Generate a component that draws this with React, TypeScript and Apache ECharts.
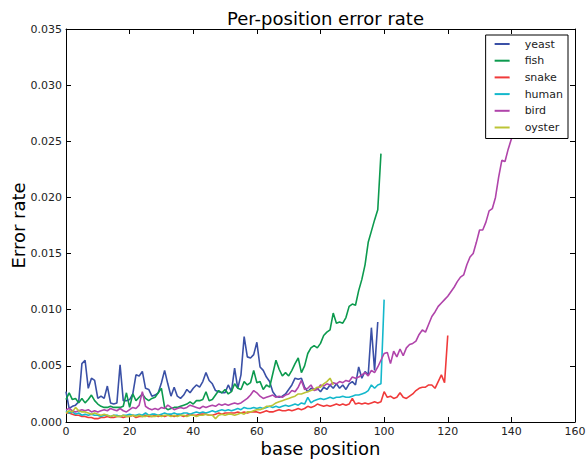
import React, { useEffect, useRef } from "react";
import * as echarts from "echarts";

const seriesNames = ["yeast", "fish", "snake", "human", "bird", "oyster"];
const seriesColors = ["#3a50a6", "#0c9a4e", "#f03a3a", "#14b8cc", "#b044aa", "#bcc436"];

const xTicks = [0, 20, 40, 60, 80, 100, 120, 140, 160];
const yTicks = [0, 0.005, 0.01, 0.015, 0.02, 0.025, 0.03, 0.035];

const yeast = [
  0.0027, 0.0012, 0.0014, 0.0015, 0.0018, 0.0052, 0.0055, 0.0030, 0.0039, 0.0037,
  0.0021, 0.0023, 0.0021, 0.0032, 0.0017, 0.0016, 0.0017, 0.0051, 0.0019, 0.0019,
  0.0020, 0.0025, 0.0042, 0.0041, 0.0045, 0.0030, 0.0029, 0.0023, 0.0024, 0.0026,
  0.0035, 0.0046, 0.0034, 0.0023, 0.0031, 0.0023, 0.0021, 0.0024, 0.0029, 0.0026,
  0.0030, 0.0033, 0.0031, 0.0036, 0.0044, 0.0037, 0.0034, 0.0028, 0.0027, 0.0026,
  0.0026, 0.0033, 0.0027, 0.0048, 0.0030, 0.0042, 0.0076, 0.0058, 0.0057, 0.0060,
  0.0071, 0.0049, 0.0046, 0.0040, 0.0036, 0.0027, 0.0023, 0.0022, 0.0023, 0.0025,
  0.0029, 0.0033, 0.0039, 0.0038, 0.0039, 0.0031, 0.0027, 0.0030, 0.0029, 0.0030,
  0.0027, 0.0031, 0.0029, 0.0033, 0.0030, 0.0034, 0.0030, 0.0033, 0.0029, 0.0034,
  0.0036, 0.0033, 0.0049, 0.0039, 0.0045, 0.0042, 0.0084, 0.0046, 0.0089,
];

const fish = [
  0.0020, 0.0026, 0.0020, 0.0021, 0.0017, 0.0021, 0.0017, 0.0020, 0.0024, 0.0019,
  0.0016, 0.0014, 0.0013, 0.0013, 0.0014, 0.0013, 0.0013, 0.0013, 0.0014, 0.0026,
  0.0013, 0.0025, 0.0019, 0.0022, 0.0025, 0.0021, 0.0019, 0.0021, 0.0022, 0.0026,
  0.0030, 0.0013, 0.0011, 0.0012, 0.0013, 0.0013, 0.0014, 0.0015, 0.0016, 0.0018,
  0.0016, 0.0019, 0.0019, 0.0020, 0.0027, 0.0019, 0.0020, 0.0024, 0.0028, 0.0026,
  0.0029, 0.0025, 0.0027, 0.0034, 0.0030, 0.0029, 0.0036, 0.0033, 0.0035, 0.0046,
  0.0035, 0.0036, 0.0029, 0.0033, 0.0031, 0.0043, 0.0055, 0.0047, 0.0041, 0.0044,
  0.0041, 0.0046, 0.0052, 0.0057, 0.0044, 0.0050, 0.0061, 0.0066, 0.0068, 0.0066,
  0.0070, 0.0077, 0.0080, 0.0082, 0.0097, 0.0088, 0.0089, 0.0088, 0.0093, 0.0103,
  0.0105, 0.0104, 0.0117, 0.0127, 0.0140, 0.0160, 0.0170, 0.0180, 0.0189, 0.0239,
];

const snake = [
  0.0008, 0.0008, 0.0007, 0.0006, 0.0006, 0.0005, 0.0005, 0.0004, 0.0004, 0.0003,
  0.0003, 0.0004, 0.0004, 0.0005, 0.0004, 0.0004, 0.0005, 0.0005, 0.0004, 0.0005,
  0.0005, 0.0006, 0.0004, 0.0005, 0.0005, 0.0006, 0.0005, 0.0005, 0.0006, 0.0005,
  0.0006, 0.0005, 0.0006, 0.0006, 0.0005, 0.0006, 0.0006, 0.0005, 0.0006, 0.0007,
  0.0006, 0.0006, 0.0007, 0.0007, 0.0007, 0.0006, 0.0006, 0.0007, 0.0008, 0.0007,
  0.0008, 0.0008, 0.0008, 0.0008, 0.0009, 0.0008, 0.0009, 0.0008, 0.0009, 0.0009,
  0.0009, 0.0008, 0.0009, 0.0010, 0.0009, 0.0009, 0.0010, 0.0011, 0.0010, 0.0010,
  0.0011, 0.0010, 0.0011, 0.0012, 0.0011, 0.0012, 0.0014, 0.0013, 0.0014, 0.0016,
  0.0015, 0.0014, 0.0015, 0.0014, 0.0015, 0.0016, 0.0015, 0.0016, 0.0015, 0.0016,
  0.0021, 0.0016, 0.0017, 0.0016, 0.0017, 0.0016, 0.0017, 0.0018, 0.0017, 0.0018,
  0.0027, 0.0022, 0.0023, 0.0021, 0.0022, 0.0026, 0.0022, 0.0021, 0.0023, 0.0025,
  0.0028, 0.0030, 0.0031, 0.0031, 0.0033, 0.0033, 0.0030, 0.0036, 0.0042, 0.0035,
  0.0077,
];

const human = [
  0.0010, 0.0008, 0.0009, 0.0007, 0.0008, 0.0006, 0.0007, 0.0006, 0.0007, 0.0006,
  0.0006, 0.0005, 0.0006, 0.0006, 0.0005, 0.0006, 0.0006, 0.0005, 0.0006, 0.0006,
  0.0007, 0.0006, 0.0006, 0.0007, 0.0006, 0.0008, 0.0006, 0.0007, 0.0007, 0.0006,
  0.0007, 0.0008, 0.0007, 0.0007, 0.0008, 0.0007, 0.0007, 0.0008, 0.0008, 0.0007,
  0.0008, 0.0009, 0.0008, 0.0009, 0.0008, 0.0009, 0.0010, 0.0009, 0.0010, 0.0011,
  0.0010, 0.0011, 0.0010, 0.0011, 0.0012, 0.0011, 0.0013, 0.0012, 0.0012, 0.0013,
  0.0012, 0.0013, 0.0012, 0.0013, 0.0014, 0.0013, 0.0014, 0.0013, 0.0014, 0.0015,
  0.0014, 0.0015, 0.0016, 0.0015, 0.0017, 0.0016, 0.0022, 0.0017, 0.0019, 0.0020,
  0.0021, 0.0020, 0.0021, 0.0022, 0.0021, 0.0022, 0.0022, 0.0023, 0.0022, 0.0022,
  0.0023, 0.0024, 0.0024, 0.0025, 0.0026, 0.0028, 0.0033, 0.0030, 0.0033, 0.0034,
  0.0109,
];

const bird = [
  0.0011, 0.0012, 0.0010, 0.0009, 0.0010, 0.0011, 0.0010, 0.0011, 0.0009, 0.0010,
  0.0009, 0.0010, 0.0011, 0.0010, 0.0012, 0.0011, 0.0010, 0.0012, 0.0010, 0.0009,
  0.0011, 0.0013, 0.0012, 0.0015, 0.0027, 0.0014, 0.0012, 0.0011, 0.0012, 0.0011,
  0.0013, 0.0012, 0.0015, 0.0013, 0.0011, 0.0012, 0.0013, 0.0012, 0.0013, 0.0015,
  0.0014, 0.0013, 0.0012, 0.0014, 0.0013, 0.0014, 0.0015, 0.0014, 0.0016, 0.0015,
  0.0016, 0.0015, 0.0016, 0.0017, 0.0016, 0.0017, 0.0019, 0.0021, 0.0024, 0.0028,
  0.0026, 0.0023, 0.0021, 0.0022, 0.0023, 0.0024, 0.0022, 0.0023, 0.0022, 0.0024,
  0.0025, 0.0028, 0.0027, 0.0031, 0.0037, 0.0029, 0.0030, 0.0033, 0.0028, 0.0029,
  0.0033, 0.0032, 0.0034, 0.0033, 0.0035, 0.0034, 0.0036, 0.0035, 0.0037, 0.0036,
  0.0040, 0.0039, 0.0040, 0.0042, 0.0044, 0.0041, 0.0046, 0.0044, 0.0049, 0.0055,
  0.0061, 0.0062, 0.0052, 0.0063, 0.0058, 0.0065, 0.0059, 0.0066, 0.0069, 0.0070,
  0.0072, 0.0078, 0.0082, 0.0080, 0.0087, 0.0094, 0.0098, 0.0103, 0.0106, 0.0109,
  0.0112, 0.0116, 0.0120, 0.0125, 0.0129, 0.0131, 0.0140, 0.0147, 0.0150, 0.0160,
  0.0171, 0.0171, 0.0178, 0.0188, 0.0190, 0.0200, 0.0218, 0.0233, 0.0232, 0.0243,
  0.0252, 0.0262, 0.0275, 0.0285, 0.0298, 0.0310,
];

const oyster = [
  0.0008, 0.0010, 0.0009, 0.0013, 0.0010, 0.0009, 0.0009, 0.0008, 0.0007, 0.0008,
  0.0007, 0.0006, 0.0007, 0.0006, 0.0005, 0.0006, 0.0005, 0.0005, 0.0006, 0.0005,
  0.0005, 0.0006, 0.0005, 0.0006, 0.0005, 0.0005, 0.0006, 0.0005, 0.0005, 0.0006,
  0.0005, 0.0006, 0.0006, 0.0005, 0.0006, 0.0005, 0.0006, 0.0006, 0.0005, 0.0006,
  0.0006, 0.0005, 0.0006, 0.0006, 0.0007, 0.0006, 0.0006, 0.0003, 0.0006, 0.0007,
  0.0006, 0.0007, 0.0007, 0.0006, 0.0007, 0.0008, 0.0007, 0.0009, 0.0009, 0.0010,
  0.0011, 0.0011, 0.0012, 0.0014, 0.0014, 0.0015, 0.0017, 0.0018, 0.0019, 0.0020,
  0.0021, 0.0022, 0.0023, 0.0025, 0.0025, 0.0026, 0.0027, 0.0028, 0.0029, 0.0031,
  0.0031, 0.0034, 0.0036, 0.0039, 0.0033,
];

const allSeries = [yeast, fish, snake, human, bird, oyster];

const FONT = "DejaVu Sans";

export default function App() {
  const ref = useRef<HTMLDivElement>(null);
  useEffect(() => {
    if (!ref.current) return;
    const chart = echarts.init(ref.current, null, { renderer: "svg" });
    const tickLabel = { fontFamily: FONT, fontSize: 11, color: "#222" };
    const xMin = xTicks[0];
    const xMax = xTicks[xTicks.length - 1];
    const xInt = xTicks[1] - xTicks[0];
    const yMin = yTicks[0];
    const yMax = yTicks[yTicks.length - 1];
    const yInt = yTicks[1] - yTicks[0];
    const frameLine = { show: true, onZero: false, lineStyle: { color: "#000", width: 1 } };
    const innerTick = { show: true, inside: true, length: 5, lineStyle: { color: "#000", width: 1 } };
    chart.setOption({
      animation: false,
      backgroundColor: "#fff",
      title: {
        text: "Per-position error rate",
        left: 320.5,
        textAlign: "center",
        top: 4,
        textStyle: { fontFamily: FONT, fontSize: 18, fontWeight: "normal", color: "#000" },
      },
      legend: {
        data: seriesNames,
        orient: "vertical",
        right: 18,
        top: 35,
        icon: "rect",
        itemWidth: 15,
        itemHeight: 2,
        itemGap: 2.7,
        padding: [2, 5, 4, 9],
        backgroundColor: "#fff",
        borderColor: "#000",
        borderWidth: 1,
        borderRadius: 0,
        z: 10,
        textStyle: { fontFamily: FONT, fontSize: 11, color: "#222", lineHeight: 14, padding: [0, 0, 0, 10] },
      },
      grid: { left: 66, right: 11, top: 29, bottom: 37, containLabel: false, outerBoundsMode: "none" },
      xAxis: [
        {
          type: "value",
          min: xMin,
          max: xMax,
          interval: xInt,
          position: "bottom",
          name: "base position",
          nameLocation: "middle",
          nameGap: 17,
          nameMoveOverlap: false,
          nameTextStyle: { fontFamily: FONT, fontSize: 18, lineHeight: 18, color: "#000" },
          axisLine: frameLine,
          axisTick: innerTick,
          axisLabel: { ...tickLabel, margin: 4 },
          splitLine: { show: false },
        },
        {
          type: "value",
          min: xMin,
          max: xMax,
          interval: xInt,
          position: "top",
          axisLine: frameLine,
          axisTick: innerTick,
          axisLabel: { show: false },
          splitLine: { show: false },
        },
      ],
      yAxis: [
        {
          type: "value",
          min: yMin,
          max: yMax,
          interval: yInt,
          position: "left",
          name: "Error rate",
          nameLocation: "middle",
          nameGap: 39,
          nameMoveOverlap: false,
          nameTextStyle: { fontFamily: FONT, fontSize: 18, lineHeight: 18, color: "#000" },
          axisLine: frameLine,
          axisTick: innerTick,
          axisLabel: { ...tickLabel, margin: 4, formatter: (v: number) => v.toFixed(3) },
          splitLine: { show: false },
        },
        {
          type: "value",
          min: yMin,
          max: yMax,
          interval: yInt,
          position: "right",
          axisLine: frameLine,
          axisTick: innerTick,
          axisLabel: { show: false },
          splitLine: { show: false },
        },
      ],
      series: allSeries.map((arr, si) => ({
        name: seriesNames[si],
        type: "line",
        xAxisIndex: 0,
        yAxisIndex: 0,
        showSymbol: false,
        symbol: "none",
        color: seriesColors[si],
        lineStyle: { width: 1.6, color: seriesColors[si] },
        data: arr.map((v, i) => [i, v]),
        clip: true,
        z: 2,
      })),
    });
    return () => chart.dispose();
  }, []);
  return <div ref={ref} style={{ width: 586, height: 459, position: "absolute", left: 0, top: 0 }} />;
}
